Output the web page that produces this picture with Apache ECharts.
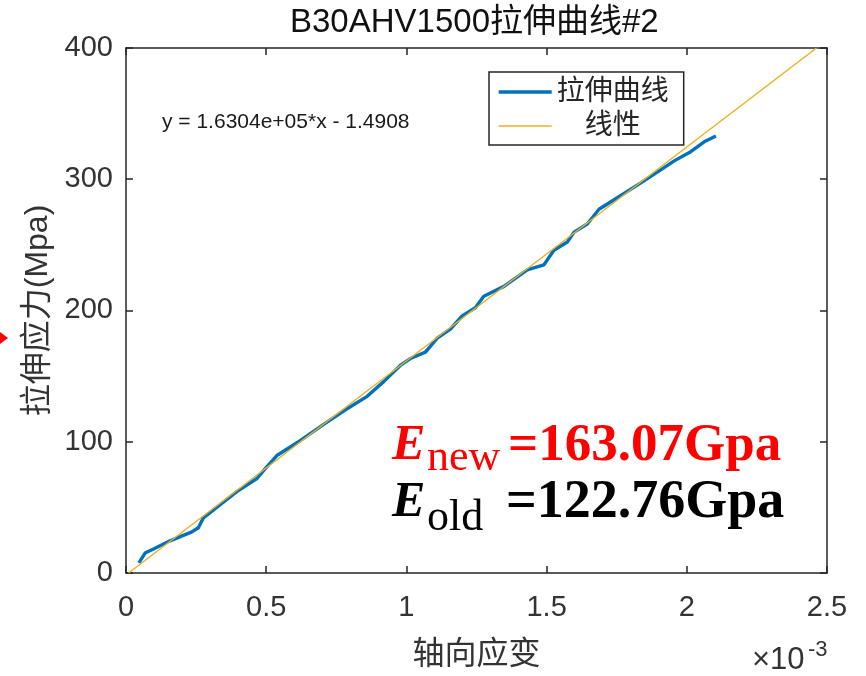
<!DOCTYPE html>
<html>
<head>
<meta charset="utf-8">
<script src="https://cdn.jsdelivr.net/npm/echarts@6/dist/echarts.min.js"></script>
<style>
html,body{margin:0;padding:0;background:#fff;}
#main{width:866px;height:676px;}
</style>
</head>
<body>
<div id="main"></div>
<script>
// Axial strain (×10^-3) and stress (MPa)
const strain = [0.046, 0.068, 0.098, 0.157, 0.235, 0.258, 0.276, 0.336, 0.395, 0.467, 0.502, 0.538, 0.621, 0.705, 0.78, 0.860, 0.919, 0.979, 1.014, 1.068, 1.11, 1.157, 1.199, 1.246, 1.276, 1.348, 1.431, 1.49, 1.526, 1.574, 1.598, 1.645, 1.687, 1.752, 1.836, 1.907, 1.955, 2.014, 2.062, 2.104];
const stress = [7.7, 15.2, 18.3, 24.5, 31.3, 34.5, 42, 52, 62, 72, 80.8, 89.5, 100.8, 113.3, 124, 134.6, 145.8, 158.3, 163.4, 168.3, 179, 185.9, 195.9, 202.1, 210.9, 218.4, 230.9, 234.7, 245.9, 252.2, 259.7, 265.9, 277.1, 285.9, 297.2, 307.2, 314, 321, 328.5, 333];
// Linear fit line endpoints
const fitStrain = [0.0091, 2.4625];
const fitStress = [0, 400];
// Labels
const seriesNames = ['拉伸曲线', '线性'];
const titleText = 'B30AHV1500拉伸曲线#2';
const xName = '轴向应变';
const yName = '拉伸应力(Mpa)';
const fitEquation = 'y = 1.6304e+05*x - 1.4908';
const eNewValue = '=163.07Gpa';
const eOldValue = '=122.76Gpa';

const sans = "'Liberation Sans', Arial, 'Noto Sans CJK SC', sans-serif";
const serif = "'Liberation Serif', 'Times New Roman', serif";
const axisColor = '#262626';

const curveData = strain.map((x, i) => [x, stress[i]]);
const fitData = fitStrain.map((x, i) => [x, fitStress[i]]);

const chart = echarts.init(document.getElementById('main'), null, {renderer: 'canvas'});

const baseAxis = {
  type: 'value',
  axisLine: {show: true, onZero: false, lineStyle: {color: axisColor, width: 1.5}},
  axisTick: {show: true, inside: true, length: 7, lineStyle: {color: axisColor, width: 1.5}},
  splitLine: {show: false}
};

chart.setOption({
  backgroundColor: '#fff',
  animation: false,
  textStyle: {fontFamily: sans},
  title: {
    text: titleText,
    left: 290, top: 6, padding: 0,
    textStyle: {fontSize: 33, fontWeight: 'normal', color: '#111', fontFamily: sans}
  },
  grid: {left: 126, right: 39, top: 48, bottom: 96, containLabel: false},
  legend: {
    orient: 'vertical',
    left: 489, top: 72,
    padding: [6, 15, 5, 8],
    itemGap: 6,
    itemWidth: 53,
    itemHeight: 14,
    borderColor: axisColor,
    borderWidth: 1.5,
    backgroundColor: '#fff',
    itemStyle: {opacity: 0},
    lineStyle: {width: 'inherit'},
    data: seriesNames,
    formatter: function (name) { return name === seriesNames[1] ? '\u3000' + name : name; },
    textStyle: {fontSize: 28, color: axisColor, fontFamily: sans}
  },
  xAxis: [
    Object.assign({}, baseAxis, {
      position: 'bottom', min: 0, max: 2.5, interval: 0.5,
      name: xName, nameLocation: 'middle', nameGap: 66,
      nameTextStyle: {fontSize: 32, color: '#333', fontFamily: sans},
      axisLabel: {fontSize: 29, color: '#333', margin: 21, fontFamily: sans}
    }),
    Object.assign({}, baseAxis, {
      position: 'top', min: 0, max: 2.5, interval: 0.5,
      axisLabel: {show: false}
    })
  ],
  yAxis: [
    Object.assign({}, baseAxis, {
      position: 'left', min: 0, max: 400, interval: 100,
      name: yName, nameLocation: 'middle', nameGap: 72,
      nameTextStyle: {fontSize: 32, color: '#333', fontFamily: sans},
      axisLabel: {fontSize: 29, color: '#333', margin: 13, fontFamily: sans}
    }),
    Object.assign({}, baseAxis, {
      position: 'right', min: 0, max: 400, interval: 100,
      axisLabel: {show: false}
    })
  ],
  series: [
    {
      name: seriesNames[0], type: 'line', xAxisIndex: 0, yAxisIndex: 0,
      data: curveData, showSymbol: false, symbol: 'none', smooth: false,
      lineStyle: {color: '#0072BD', width: 3.4},
      itemStyle: {color: '#0072BD'}, z: 2
    },
    {
      name: seriesNames[1], type: 'line', xAxisIndex: 0, yAxisIndex: 0,
      data: fitData, showSymbol: false, symbol: 'none',
      lineStyle: {color: '#EDB120', width: 1.5},
      itemStyle: {color: '#EDB120'}, z: 3
    }
  ],
  graphic: [
    {type: 'text', left: 162, top: 112, z: 10,
     style: {text: fitEquation, fontSize: 21, fill: '#1a1a1a', fontFamily: sans}},
    // ×10^-3 exponent
    {type: 'text', x: 752, y: 660, z: 10,
     style: {text: '×10', fontSize: 31, fill: '#333', fontFamily: sans, verticalAlign: 'middle', align: 'left'}},
    {type: 'text', x: 808, y: 650, z: 10,
     style: {text: '-3', fontSize: 22, fill: '#333', fontFamily: sans, verticalAlign: 'middle', align: 'left'}},
    // E_new line
    {type: 'text', x: 392, y: 446, z: 10,
     style: {text: 'E', fontSize: 50, fontWeight: 'bold', fontStyle: 'italic', fill: '#ff0000', fontFamily: serif, verticalAlign: 'middle', align: 'left'}},
    {type: 'text', x: 427, y: 458, z: 10,
     style: {text: 'new', fontSize: 44, fill: '#ff0000', fontFamily: serif, verticalAlign: 'middle', align: 'left'}},
    {type: 'text', x: 508, y: 446, z: 10,
     style: {text: eNewValue, fontSize: 53, fontWeight: 'bold', fill: '#ff0000', fontFamily: serif, verticalAlign: 'middle', align: 'left'}},
    // E_old line
    {type: 'text', x: 392, y: 503, z: 10,
     style: {text: 'E', fontSize: 50, fontWeight: 'bold', fontStyle: 'italic', fill: '#000', fontFamily: serif, verticalAlign: 'middle', align: 'left'}},
    {type: 'text', x: 427, y: 518, z: 10,
     style: {text: 'old', fontSize: 44, fill: '#000', fontFamily: serif, verticalAlign: 'middle', align: 'left'}},
    {type: 'text', x: 506, y: 503, z: 10,
     style: {text: eOldValue, fontSize: 54, fontWeight: 'bold', fill: '#000', fontFamily: serif, verticalAlign: 'middle', align: 'left'}},
    // red arrow head at left edge
    {type: 'polygon', z: 10,
     shape: {points: [[0, 332], [8, 338], [0, 344]]},
     style: {fill: '#ff0000'}}
  ]
});
</script>
</body>
</html>
